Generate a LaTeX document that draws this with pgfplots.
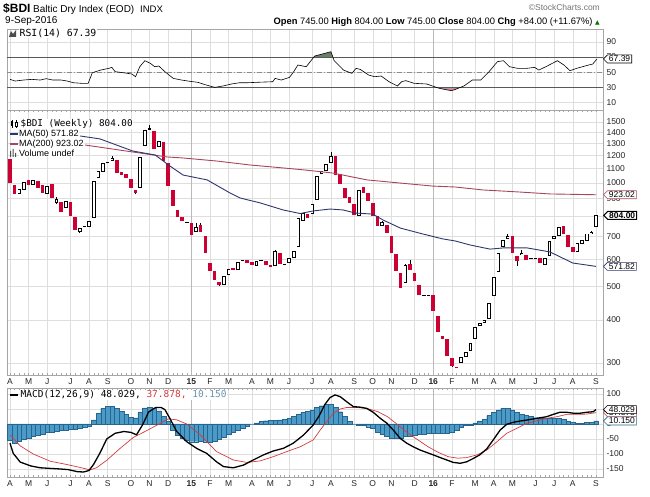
\documentclass[border=0pt]{standalone}
\usepackage{pgfplots}
\pgfplotsset{compat=1.18}
\usepackage{pgfplotstable}
\usepgfplotslibrary{fillbetween}
\usetikzlibrary{shapes.symbols}
\usepackage{fontspec}
\setmainfont{Liberation Sans}
\newfontfamily\mono{DejaVu Sans Mono}
\newfontfamily\sym{DejaVu Sans}

\definecolor{bdired}{RGB}{204,0,51}
\definecolor{maA}{RGB}{45,55,110}
\definecolor{maB}{RGB}{165,70,90}
\definecolor{gridc}{RGB}{222,222,222}
\definecolor{histfill}{RGB}{74,155,199}
\definecolor{histdraw}{RGB}{40,100,140}
\definecolor{sigred}{RGB}{210,60,60}
\definecolor{obfill}{RGB}{105,128,105}
\definecolor{osfill}{RGB}{205,140,150}

% weekly candles, i = week index (0 = week of 7 Apr 2014)
\pgfplotstableread{
i o c h l
0 1172 999 1172 999
1 985 928 985 928
2 928 959 959 928
3 953 1005 1005 953
4 1019 985 1019 985
5 985 1019 1019 985
6 1012 966 1012 966
7 985 934 985 934
8 928 979 979 928
9 992 903 992 903
10 874 897 910 865
11 879 823 879 823
12 845 885 885 845
13 879 801 879 801
14 796 729 796 729
15 720 739 739 715
16 744 748 748 744
17 744 775 775 744
18 790 1012 1012 790
19 1032 1082 1082 1032
20 1075 1141 1141 1075
21 1147 1151 1151 1147
22 1157 1180 1196 1157
23 1164 1067 1164 1067
24 1075 1053 1075 1053
25 1060 1032 1060 1032
26 1025 966 1025 966
27 953 934 953 925
28 966 1188 1188 966
29 1278 1423 1423 1278
30 1423 1442 1471 1423
31 1413 1253 1413 1253
32 1270 1322 1322 1270
33 1313 1157 1313 1157
34 1141 979 1141 979
35 953 856 953 856
36 834 796 834 796
37 796 775 796 775
38 767 771 771 767
39 764 705 764 705
40 720 744 764 720
41 754 720 764 720
42 701 626 701 626
43 585 555 585 555
44 555 522 555 522
45 515 505 515 502
46 505 536 536 505
47 540 562 562 540
48 566 558 566 558
49 558 589 589 558
50 591 595 597 591
51 597 585 597 585
52 589 577 589 577
53 573 593 593 573
54 591 595 595 591
55 593 577 593 577
56 577 570 577 570
57 573 634 638 573
58 626 581 626 581
59 579 583 583 579
60 585 605 605 585
61 605 634 634 605
62 651 790 790 651
63 775 817 817 775
64 812 790 812 790
65 812 868 868 812
66 891 1046 1046 891
67 1060 1082 1082 1060
68 1082 1134 1134 1082
69 1141 1196 1228 1141
70 1196 1053 1196 1053
71 1060 992 1060 992
72 966 903 966 903
73 909 874 909 874
74 868 806 868 806
75 801 953 953 801
76 972 934 972 934
77 934 885 934 885
78 874 801 874 801
79 801 749 801 749
80 749 769 775 749
81 754 715 754 715
82 701 626 701 626
83 621 555 621 555
84 547 495 547 495
85 512 577 580 512
86 581 558 597 558
87 547 519 547 519
88 505 472 505 472
89 470 473 473 470
90 471 474 474 471
91 472 425 472 425
92 411 369 411 369
93 359 352 359 352
94 352 314 352 314
95 310 294 310 292
96 292 290 292 290
97 300 312 312 300
98 312 323 323 312
99 325 343 343 325
100 352 382 382 352
101 384 392 392 384
102 392 400 400 392
103 403 448 448 403
104 469 533 533 469
105 551 626 626 551
106 651 682 682 651
107 687 701 710 687
108 701 626 701 626
109 613 593 613 573
110 617 626 638 617
111 617 597 617 597
112 603 606 606 603
113 599 603 603 599
114 605 585 605 585
115 577 605 605 577
116 613 678 678 613
117 687 701 701 687
118 701 744 744 701
119 749 710 749 710
120 705 651 705 651
121 651 630 651 630
122 630 669 669 630
123 664 682 682 664
124 678 712 712 678
125 710 720 724 710
126 745 804 804 745
}\candles

\pgfplotstableread{
i v
15.05 1367
19.35 1340
26.4 1236
31.2 1204
34.4 1118
37.2 1053
42.4 1019
47.3 934
49.5 903
53.8 874
58.7 834
62.4 814
65.1 828
68.8 839
71.6 834
74.2 817
78.0 811
80.2 780
83.9 739
88.8 710
93.1 687
95.7 678
98.9 660
103.2 642
106 647
111.2 647
116.1 630
121.0 585
126 572
}\maFifty

\pgfplotstableread{
i v
16.1 1287
26.4 1228
33.8 1188
37.2 1180
44.5 1156
51.6 1126
58.7 1104
63.4 1089
69.4 1067
76.8 1019
83.9 998
90.9 978
95.7 972
101.7 953
109 941
116.1 928
126 923
}\maTwoHundred

\pgfplotstableread{
i v
0 40.6
1.1 38.4
2.9 39.7
4.7 40.6
6.5 39.7
7.8 41.5
9.2 39.7
11.0 39.7
12.3 38.4
13.6 36.2
15.4 35.4
16.8 35.4
17.7 49.3
19.5 52.8
21.2 55.0
21.9 56.3
22.6 50.7
24.4 49.3
26.2 47.6
27.0 44.1
27.9 57.2
29.0 65.1
30.2 61.6
31.1 57.2
32.0 58.1
33.3 50.7
35.1 41.9
36.9 39.7
38.7 38.0
40.4 36.7
42.2 33.2
44.0 30.1
45.8 31.9
47.6 34.5
49.4 36.2
51.2 36.2
53.0 36.7
54.7 37.1
56.5 37.5
57.0 41.9
58.3 39.7
60.1 43.2
61.0 50.7
61.9 59.4
63.7 57.2
65.5 71.2
69.0 76.9
69.7 65.1
71.7 52.8
73.5 48.5
74.4 55.0
75.3 53.7
77.1 46.3
78.4 44.1
79.8 45.0
81.5 37.5
83.3 31.9
84.2 37.5
85.1 38.9
86.9 35.4
89.6 34.5
92.3 28.8
94.9 25.7
95.8 27.5
97.6 31.9
99.4 39.7
101.2 39.7
103.0 50.7
104.8 63.8
106.1 65.1
107.4 57.2
109.2 55.0
111.0 55.0
112.8 56.3
113.7 52.8
115.5 58.1
117.7 65.1
119.1 59.4
120.4 52.0
121.8 55.0
123.1 57.2
124.4 59.4
125.3 60.7
126.2 67.39
}\rsi

\pgfplotstableread{
i v
0 -64
0.7 -98
2.2 -127
4.5 -140
6.5 -146
8.6 -148
10.8 -150
12.5 -152
14.5 -159
15.8 -160
17 -155
18 -134
19.4 -95
20.8 -50
22.6 -31
24.5 -25
26 -28
27.2 -36
28.5 -3
29.8 40
31.3 55
32.5 55
33.3 48
34.4 18
35.8 -24
38 -59
40.1 -81
42.3 -98
44.4 -126
45.9 -142
48 -146
50.2 -137
52.3 -120
54.5 -103
56.6 -90
58.8 -81
60.9 -64
63.1 -37
65.2 -3
66.5 28
67.7 65
68.8 88
69.9 97
71 91
72.4 74
73.8 58
75.3 56
76.7 52
78.1 39
79.6 19
81 3
82.4 -20
83.9 -48
85.3 -64
86.7 -76
88.2 -87
89.6 -95
91 -103
92.5 -112
93.9 -120
95.3 -128
96.8 -131
98.2 -126
99.6 -115
101 -103
102.5 -83
103.9 -53
105.4 -20
106.8 -1
108.2 5.5
109.7 10
111.1 13
113.2 19
115.3 24
116.8 32
118.2 39
119.7 39
121.1 36
122.6 36
124 39
125.4 41
126 48.029
}\macd

\pgfplotstableread{
i v
0 -36
2.2 -73
5 -100
8.6 -124
12.2 -135
15.1 -145
17.2 -153
18.6 -146
20.8 -121
23.7 -81
26.5 -45
29.4 -22
32.3 2
34 17
35.8 14
38 0
40.9 -36
44.4 -92
48 -120
50.9 -128
53.8 -123
56.6 -109
59.5 -92
62.4 -76
65.2 -53
66.7 -20
68.1 8
69.5 35
71 50
72.4 55
74.6 55
76.7 52
79.1 41
81.2 24
83.4 -3
85.6 -31
87.7 -53
89.9 -76
92 -94
94.2 -109
96.3 -114
98.2 -112
100.4 -103
102.5 -87
104.7 -59
106.8 -31
109 -14
111.1 2
113.2 10
115.3 19
117.5 24
119.7 32
121.9 32
124 33
126 37.878
}\signal

\pgfplotstableread{
i h
0 -53
1 -63
2 -57
3 -50
4 -46
5 -42
6 -37
7 -33
8 -28
9 -26
10 -24
11 -22
12 -20
13 -18
14 -16
15 -14
16 -12
17 -8
18 14
19 36
20 52
21 58
22 58
23 52
24 42
25 33
26 22
27 20
28 40
29 54
30 56
31 52
32 44
33 25
34 8
35 -20
36 -37
37 -46
38 -53
39 -59
40 -59
41 -57
42 -59
43 -60
44 -58
45 -52
46 -43
47 -34
48 -27
49 -20
50 -14
51 -6
52 0
53 4
54 8
55 11
56 12
57 13
58 14
59 16
60 19
61 25
62 32
63 38
64 43
65 47
66 55
67 61
68 66
69 66
70 55
71 41
72 25
73 8
74 0
75 -3
76 -5
77 -9
78 -14
79 -26
80 -34
81 -40
82 -46
83 -48
84 -48
85 -42
86 -40
87 -37
88 -34
89 -34
90 -31
91 -31
92 -31
93 -31
94 -31
95 -26
96 -20
97 -11
98 -5
99 -3
100 4
101 10
102 16
103 28
104 39
105 47
106 52
107 52
108 47
109 39
110 32
111 28
112 25
113 21
114 19
115 19
116 19
117 19
118 19
119 16
120 8
121 5
122 3
123 3
124 5
125 6
126 10.15
}\hist

\pgfplotsset{
  sc panel/.style={
    scale only axis, width=596pt, anchor=south west,
    xmin=-0.645, xmax=127.5,
    xtick={0,4,8,13,17,21,26,30,34,39,43,47,52,56,60,65,69,74,78,82,87,91,95,100,104,108,113,117,121,126},
    xticklabels={A,M,J,J,A,S,O,N,D,\textbf{15},F,M,A,M,J,J,A,S,O,N,D,\textbf{16},F,M,A,M,J,J,A,S},
    extra x ticks={39,91}, extra x tick labels={,},
    extra x tick style={major grid style={draw=gray!55, line width=0.5pt}},
    xmajorgrids, ymajorgrids,
    grid style={draw=gridc, line width=0.4pt},
    axis line style={draw=gray!70, line width=0.6pt},
    major tick style={draw=none}, minor tick style={draw=none},
    yticklabel pos=right,
    tick label style={font=\fontsize{8.5}{9}\selectfont, text=black!85},
  },
  weekly ticks/.style={
    minor xtick={0,...,126}, minor x tick style={draw=gray!70, line width=0.4pt},
    minor tick length=2pt,
  },
  body/.style={draw=none, no markers, forget plot,
    error bars/y dir=plus, error bars/y explicit, error bars/error mark=none},
}
\tikzset{
  tag/.style={signal, signal to=west, draw=#1, fill=white, line width=0.6pt,
    inner xsep=1.5pt, inner ysep=1pt, anchor=west, font=\fontsize{8.5}{9}\selectfont},
}

\begin{document}
\begin{tikzpicture}

% ---- RSI panel
\begin{axis}[sc panel, at={(7pt,387pt)}, height=81pt, ymin=0.4, ymax=106.7,
  ytick={10,30,50,70,90}, yticklabels={10,30,50,70,90},
  xticklabel style={text opacity=0}]
\addplot[draw=none, name path=rsi, forget plot] table[x=i,y=v]{\rsi};
\addplot[name path=ob, draw=black!65, line width=0.7pt] coordinates {(-0.645,70) (127.5,70)};
\addplot[name path=os, draw=black!65, line width=0.7pt] coordinates {(-0.645,30) (127.5,30)};
\addplot[draw=black!45, line width=0.6pt, dash pattern=on 5pt off 2pt on 1pt off 2pt] coordinates {(-0.645,50) (127.5,50)};
\addplot[fill=none, draw=none] fill between[of=rsi and ob, split,
  every segment no 1/.style={fill=obfill}];
\addplot[fill=none, draw=none] fill between[of=rsi and os, split,
  every segment no 1/.style={fill=osfill}];
\addplot[black, line width=0.6pt] table[x=i,y=v]{\rsi};
\coordinate (tagrsi) at (axis cs:127.5,67.39);
\end{axis}

% ---- price panel
\begin{axis}[sc panel, weekly ticks, at={(7pt,122pt)}, height=265pt, ymode=log, ymin=276.9, ymax=1626,
  ytick={300,400,500,600,700,800,900,1000,1100,1200,1300,1400,1500},
  yticklabels={300,400,500,600,700,800,900,1000,1100,1200,1300,1400,1500}]
\addplot[body, error bars/error bar style={draw=black, line width=0.6pt}]
  table[x=i, y=l, y error plus expr={\thisrow{h}-\thisrow{l}}]{\candles};
\addplot[body, restrict expr to domain={\thisrow{o}-\thisrow{c}}{0.001:100000},
  error bars/error bar style={draw=bdired, line width=3.6pt}]
  table[x=i, y=c, y error plus expr={\thisrow{o}-\thisrow{c}}]{\candles};
\addplot[body, restrict expr to domain={\thisrow{c}-\thisrow{o}}{0.001:100000},
  error bars/error bar style={draw=black, line width=3.6pt}]
  table[x=i, y=o, y error plus expr={\thisrow{c}-\thisrow{o}}]{\candles};
\addplot[body, restrict expr to domain={\thisrow{c}/\thisrow{o}}{1.014:10},
  error bars/error bar style={draw=white, line width=1.9pt, shorten <=0.75pt, shorten >=0.75pt}]
  table[x=i, y=o, y error plus expr={\thisrow{c}-\thisrow{o}}]{\candles};
\addplot[maB, line width=0.9pt] table[x=i,y=v]{\maTwoHundred};
\addplot[maA, line width=0.9pt] table[x=i,y=v]{\maFifty};
\coordinate (tagmb) at (axis cs:127.5,923.02);
\coordinate (tagpx) at (axis cs:127.5,804);
\coordinate (tagma) at (axis cs:127.5,571.82);
\end{axis}

% ---- MACD panel
\begin{axis}[sc panel, weekly ticks, at={(7pt,20pt)}, height=89pt, ymin=-176.7, ymax=120,
  ytick={-150,-100,-50,0,50,100}, yticklabels={-150,-100,-50,0,50,100}]
\addplot[ybar, bar width=4.651pt, fill=histfill, draw=histdraw, line width=0.35pt]
  table[x=i,y=h]{\hist};
\addplot[sigred, line width=0.7pt] table[x=i,y=v]{\signal};
\addplot[black, line width=1.3pt] table[x=i,y=v]{\macd};
\coordinate (tagsig) at (axis cs:127.5,37.878);
\coordinate (tagmacd) at (axis cs:127.5,48.029);
\coordinate (taghist) at (axis cs:127.5,10.15);
\end{axis}

% value tags
\node[tag=black] at (tagrsi) {67.39};
\node[tag=maB] at (tagmb) {923.02};
\node[tag=black, line width=1pt, font=\fontsize{8.5}{9}\selectfont\bfseries] at (tagpx) {804.00};
\node[tag=maA] at (tagma) {571.82};
\node[tag=sigred] at (tagsig) {37.878};
\node[tag=black] at (tagmacd) {48.029};
\node[tag=histdraw] at (taghist) {10.150};

% header
\node[anchor=west, inner sep=0] at (3pt,488pt) {\fontsize{12}{13}\selectfont\bfseries \$BDI};
\node[anchor=west, inner sep=0] at (33pt,487.5pt) {\fontsize{10}{11}\selectfont Baltic Dry Index (EOD)};
\node[anchor=west, inner sep=0] at (140pt,487.5pt) {\fontsize{9.5}{10}\selectfont INDX};
\node[anchor=east, inner sep=0, text=black!55] at (600pt,490pt) {\fontsize{8.5}{9}\selectfont\textcopyright StockCharts.com};
\node[anchor=west, inner sep=0] at (5pt,476pt) {\fontsize{10}{11}\selectfont 9-Sep-2016};
\node[anchor=east, inner sep=0] at (600pt,475pt) {\fontsize{9.35}{10}\selectfont
  \textbf{Open} 745.00 \textbf{High} 804.00 \textbf{Low} 745.00 \textbf{Close} 804.00 \textbf{Chg} +84.00 (+11.67\%) {\sym\fontsize{6}{6}\selectfont\color{green!45!black}▲}};

% RSI legend
\fill[black!70] (9pt,460pt) -- (11pt,466pt) -- (13pt,463pt) -- (16pt,467pt) -- (16pt,460pt) -- cycle;
\node[anchor=west, inner sep=0.5pt, fill=white] at (19pt,463.5pt) {\mono\fontsize{9.8}{10}\selectfont RSI(14) 67.39};

% price legend
\draw[black, line width=0.5pt] (12pt,369pt) -- (12pt,377pt);
\fill[black] (11pt,370.5pt) rectangle (13pt,375.5pt);
\draw[black, line width=0.5pt] (16pt,369pt) -- (16pt,377pt);
\draw[black, fill=white, line width=0.4pt] (15pt,371pt) rectangle (17pt,375pt);
\node[anchor=west, inner sep=0.5pt, fill=white] at (20pt,373pt) {\mono\fontsize{9.3}{9}\selectfont \$BDI (Weekly) 804.00};
\draw[maA, line width=1.2pt] (10pt,363pt) -- (18pt,363pt);
\node[anchor=west, inner sep=0.5pt, fill=white] at (18.5pt,363pt) {\fontsize{9}{9}\selectfont MA(50) 571.82};
\draw[maB, line width=1.2pt] (10pt,353pt) -- (18pt,353pt);
\node[anchor=west, inner sep=0.5pt, fill=white] at (18.5pt,353pt) {\fontsize{9}{9}\selectfont MA(200) 923.02};
\fill[black!70] (10pt,340pt) rectangle (11.2pt,346pt) (12.5pt,340pt) rectangle (13.7pt,348pt) (15pt,340pt) rectangle (16.2pt,344pt);
\node[anchor=west, inner sep=0.5pt, fill=white] at (18.5pt,344pt) {\fontsize{9}{9}\selectfont Volume undef};

% MACD legend
\draw[black, line width=1.4pt] (10pt,102pt) -- (18pt,102pt);
\node[anchor=west, inner sep=0.5pt, fill=white] at (20pt,102pt) {\mono\fontsize{9.5}{10}\selectfont MACD(12,26,9) 48.029, \textcolor{sigred}{37.878,} \textcolor{histdraw!70}{10.150}};

% fixed picture size
\pgfresetboundingbox
\path[use as bounding box] (0,0) rectangle (650pt,497pt);
\end{tikzpicture}
\end{document}
